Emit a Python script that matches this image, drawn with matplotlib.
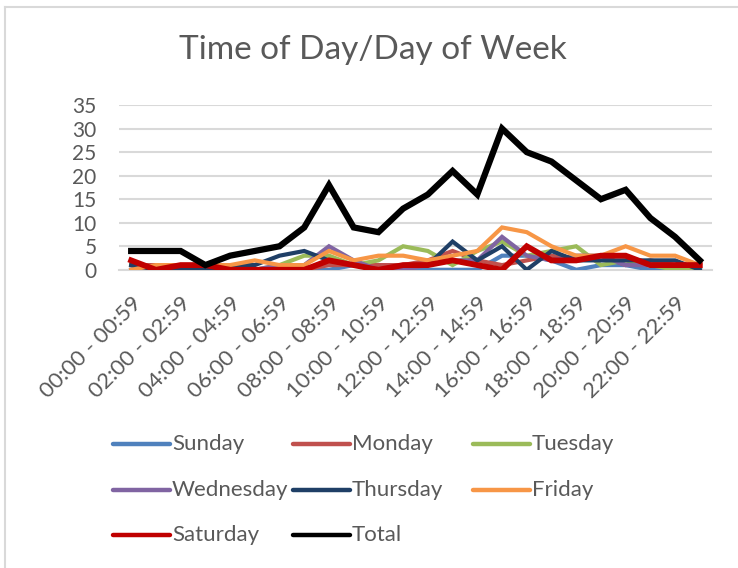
import matplotlib
matplotlib.use("Agg")
import matplotlib.pyplot as plt
from matplotlib.lines import Line2D

hours = [f"{h:02d}:00 - {h:02d}:59" for h in range(24)]
tick_labels = hours[::2]

sunday    = [0, 1, 1, 0, 0, 0, 0, 0, 0, 1, 1, 0, 0, 0, 0, 3, 3, 2, 0, 1, 1, 0, 0, 0]
monday    = [1, 1, 1, 1, 0, 0, 0, 0, 1, 1, 1, 1, 2, 4, 2, 1, 2, 3, 2, 3, 1, 2, 1, 1]
tuesday   = [1, 0, 0, 0, 0, 0, 1, 3, 3, 1, 2, 5, 4, 1, 4, 6, 3, 4, 5, 1, 2, 1, 0, 0]
wednesday = [0, 0, 0, 1, 1, 0, 1, 1, 5, 2, 0, 0, 1, 2, 2, 7, 3, 2, 3, 3, 1, 1, 1, 1]
thursday  = [1, 0, 0, 0, 1, 1, 3, 4, 2, 1, 0, 1, 1, 6, 2, 5, 0, 4, 2, 2, 2, 2, 2, 0]
friday    = [0, 1, 1, 1, 1, 2, 1, 1, 4, 2, 3, 3, 2, 3, 4, 9, 8, 5, 3, 3, 5, 3, 3, 1]
saturday  = [2, 0, 1, 1, 0, 0, 0, 0, 2, 1, 0, 1, 1, 2, 1, 0, 5, 2, 2, 3, 3, 1, 1, 1]
total     = [4, 4, 4, 1, 3, 4, 5, 9, 18, 9, 8, 13, 16, 21, 16, 30, 25, 23, 19, 15, 17, 11, 7, 2]

series_names = ["Sunday", "Monday", "Tuesday", "Wednesday", "Thursday", "Friday", "Saturday", "Total"]
series_data = [sunday, monday, tuesday, wednesday, thursday, friday, saturday, total]
colors = ["#4F81BD", "#C0504D", "#9BBB59", "#8064A2", "#1F3F66", "#F79646", "#C00000", "#000000"]
widths = [3.0, 3.0, 3.0, 3.0, 3.0, 3.0, 4.2, 4.5]

plt.rcParams['font.family'] = ['Lato', 'DejaVu Sans']
text_color = "#595959"

W, H = 738, 568
fig = plt.figure(figsize=(W / 100, H / 100), dpi=100)
ax = fig.add_axes([0.161, 0.525, 0.804, 0.29])

x = list(range(24))
for name, data, c, w in zip(series_names, series_data, colors, widths):
    ax.plot(x, data, color=c, linewidth=w, solid_joinstyle='miter', label=name, zorder=3)

ax.set_xlim(-0.5, 23.5)
ax.set_ylim(0, 35)
ax.set_yticks(range(0, 36, 5))
ax.yaxis.grid(True, color="#D9D9D9", linewidth=1.5, zorder=0)
ax.set_axisbelow(True)
for s in ["top", "right", "left"]:
    ax.spines[s].set_visible(False)
ax.spines["bottom"].set_color("#D9D9D9")
ax.spines["bottom"].set_linewidth(1.5)
ax.tick_params(axis='y', length=0, pad=16, labelsize=15, labelcolor=text_color)
ax.set_xticks(x[::2])
ax.set_xticklabels(tick_labels, rotation=45, ha='right', va='top', rotation_mode='anchor')
ax.tick_params(axis='x', length=0, pad=17, labelsize=16, labelcolor=text_color)

fig.text(0.505, 0.912, "Time of Day/Day of Week", ha='center', va='center', fontsize=24, color=text_color)

# legend laid out in Excel's fixed grid (row-major, 3 columns)
col_x = [113, 293, 473]
row_y = [444, 490, 535]
handle_len = 57
for i, (name, c) in enumerate(zip(series_names, colors)):
    r, col = divmod(i, 3)
    x0 = col_x[col]
    yy = 1 - row_y[r] / H
    fig.add_artist(Line2D([x0 / W, (x0 + handle_len) / W], [yy, yy], color=c, linewidth=3.2,
                          solid_capstyle='round', transform=fig.transFigure))
    fig.text((x0 + handle_len + 2) / W, yy, name, ha='left', va='center', fontsize=16, color=text_color)

# outer border (left and top)
fig.add_artist(Line2D([0.007, 0.007], [0.0, 0.988], color="#D9D9D9", linewidth=1.5, transform=fig.transFigure))
fig.add_artist(Line2D([0.007, 1.0], [0.988, 0.988], color="#D9D9D9", linewidth=1.5, transform=fig.transFigure))

fig.savefig("out.png", dpi=100)
